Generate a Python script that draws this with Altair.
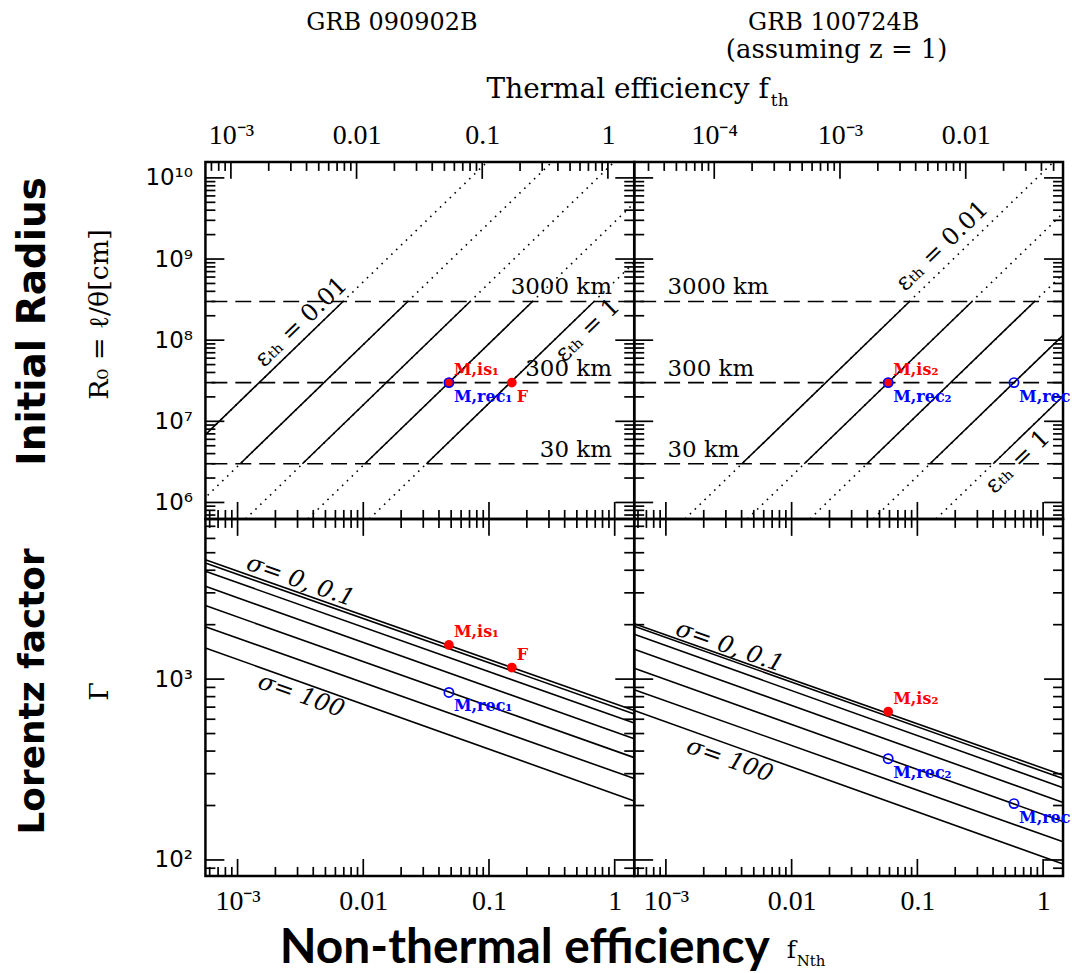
import altair as alt
import pandas as pd

# ------------------------------------------------------------------ layout
W, H = 430, 358
SERIF = "DejaVu Serif"
TICKFONT = "Liberation Serif"
SANS = "DejaVu Sans"
BOLD = "DejaVu Sans"
BOLD2 = "Lato"
RED, BLUE = "#ff0000", "#0000ff"

# ------------------------------------------------------------------ axis ranges (log)
nth_dom_left = [5.55e-4, 1.43]
nth_dom_right = [5.6e-4, 1.44]
fth_dom_left = [6.27e-4, 1.62]
fth_dom_right = [2.31e-5, 0.0594]
r_dom = [6.27e5, 1.574e10]
g_dom = [81.6, 7690.0]

# ------------------------------------------------------------------ tick labels
nth_ticks = [1e-3, 1e-2, 1e-1, 1.0]
nth_labels = ["10⁻³", "0.01", "0.1", "1"]
fth_ticks_left = [1e-3, 1e-2, 1e-1, 1.0]
fth_labels_left = ["10⁻³", "0.01", "0.1", "1"]
fth_ticks_right = [1e-4, 1e-3, 1e-2]
fth_labels_right = ["10⁻⁴", "10⁻³", "0.01"]
r_ticks = [1e6, 1e7, 1e8, 1e9, 1e10]
r_labels = ["10⁶", "10⁷", "10⁸", "10⁹", "10¹⁰"]
g_ticks = [1e2, 1e3]
g_labels = ["10²", "10³"]

# ------------------------------------------------------------------ radius levels (cm)
radius_cm = [3e6, 3e7, 3e8]
radius_names = ["30  km", "300  km", "3000  km"]

# ------------------------------------------------------------------ eps_th lines
eps_ids = ["0.01", "0.03", "0.1", "0.3", "1"]
# GRB 090902B: f_Nth where each line meets 30 km / 3000 km, and the panel bottom / top
eps_at30_left = [3.2e-4, 1.05e-3, 3.28e-3, 0.0103, 0.0318]
eps_at3000_left = [6.9e-3, 0.0226, 0.0708, 0.222, 0.685]
eps_bottom_left = [1.13e-4, 3.7e-4, 1.16e-3, 3.63e-3, 0.0112]
eps_top_left = [0.0966, 0.317, 0.991, 3.11, 9.6]
# GRB 100724B
eps_at30_right = [4.02e-3, 0.0126, 0.0396, 0.126, 0.401]
eps_at3000_right = [0.0867, 0.272, 0.855, 2.73, 8.65]
eps_bottom_right = [1.42e-3, 4.45e-3, 0.014, 0.0446, 0.141]
eps_top_right = [1.21, 3.8, 12.0, 38.0, 120.0]

# ------------------------------------------------------------------ Lorentz factor lines (sigma family)
sigma_ids = ["s1", "s2", "s3", "s4", "s5", "s6", "s7"]
gamma_lo_left = [4571, 4385, 3945, 3259, 2551, 1950, 1487]
gamma_hi_left = [670, 642, 572, 468, 368, 282, 212]
gamma_lo_right = [2023, 1963, 1770, 1463, 1150, 874, 670]
gamma_hi_right = [294, 282, 251, 208, 163, 126, 95]

# ------------------------------------------------------------------ measured points
r_pts_left_x = [0.048, 0.048, 0.152]
r_pts_left_y = [3e7, 3e7, 3e7]
r_pts_left_name = ["M,is₁", "M,rec₁", "F"]
r_pts_left_kind = ["is", "rec", "is"]

g_pts_left_x = [0.048, 0.152, 0.048]
g_pts_left_y = [1545, 1159, 844]
g_pts_left_name = ["M,is₁", "F", "M,rec₁"]
g_pts_left_kind = ["is", "is", "rec"]

r_pts_right_x = [0.0586, 0.0586, 0.587]
r_pts_right_y = [3e7, 3e7, 3e7]
r_pts_right_name = ["M,is₂", "M,rec₂", "M,rec"]
r_pts_right_kind = ["is", "rec", "rec"]

g_pts_right_x = [0.0586, 0.0586, 0.587]
g_pts_right_y = [661, 363, 205]
g_pts_right_name = ["M,is₂", "M,rec₂", "M,rec"]
g_pts_right_kind = ["is", "rec", "rec"]

# labels written under their marker (the rest go above)
below_radius = {"M,rec₁", "M,rec₂", "M,rec", "F"}
below_gamma = {"M,rec₁", "M,rec₂", "M,rec"}


# ================================================================== helpers
def log_ticks(lo, hi):
    major, minor = [], []
    for e in range(-6, 12):
        for m in range(1, 10):
            v = m * 10.0 ** e
            if lo <= v <= hi:
                (major if m == 1 else minor).append(v)
    return major, minor


def label_axis(orient, values, labels, pad, font=TICKFONT, size=28):
    expr = ("[" + ",".join("'%s'" % s for s in labels) + "][indexof(["
            + ",".join(repr(float(v)) for v in values) + "], datum.value)]")
    return alt.Axis(orient=orient, values=values, labelExpr=expr, ticks=False,
                    domain=False, grid=False, labelPadding=pad, labelFont=font,
                    labelFontSize=size, labelColor="black", labelFlush=False,
                    labelOverlap=False, labelBound=False)


def xtick_rules(xenc, lo, hi, side):
    major, minor = log_ticks(lo, hi)
    out = []
    for vals, ln in ((major, 17), (minor, 9)):
        y0, y1 = (H, H - ln) if side == "bottom" else (0, ln)
        out.append(alt.Chart(pd.DataFrame({"x": vals})).mark_rule(
            color="black", strokeWidth=1.7).encode(
            x=xenc, y=alt.value(y0), y2=alt.value(y1)))
    return out


def ytick_rules(yenc, lo, hi):
    major, minor = log_ticks(lo, hi)
    out = []
    for vals, ln in ((major, 19), (minor, 10)):
        df = pd.DataFrame({"y": vals})
        out.append(alt.Chart(df).mark_rule(color="black", strokeWidth=1.7).encode(
            y=yenc, x=alt.value(0), x2=alt.value(ln)))
        out.append(alt.Chart(df).mark_rule(color="black", strokeWidth=1.7).encode(
            y=yenc, x=alt.value(W), x2=alt.value(W - ln)))
    return out


def segments(xa, ya, xb, yb, ids):
    rows = []
    for i, k in enumerate(ids):
        rows.append({"k": k, "x": xa[i], "y": ya[i]})
        rows.append({"k": k, "x": xb[i], "y": yb[i]})
    return pd.DataFrame(rows)


def text_at(text, px, py, size, font=SERIF, weight="normal", angle=0,
            align="center", baseline="middle", style="normal"):
    return alt.Chart(pd.DataFrame({"t": [text]})).mark_text(
        font=font, fontSize=size, fontWeight=weight, angle=angle, align=align,
        baseline=baseline, fontStyle=style, color="black").encode(
        x=alt.value(px), y=alt.value(py), text="t:N")


def point_layers(xenc, yenc, xs, ys, names, kinds, below):
    df = pd.DataFrame({"x": xs, "y": ys, "name": names, "kind": kinds})
    df["side"] = ["below" if n in below else "above" for n in names]
    red = df[df.kind == "is"]
    blue = df[df.kind == "rec"]
    out = [
        alt.Chart(red).mark_circle(color=RED, size=95, opacity=1).encode(x=xenc, y=yenc),
        alt.Chart(blue).mark_point(shape="circle", filled=False, color=BLUE,
                                   size=85, strokeWidth=1.7, opacity=1).encode(x=xenc, y=yenc),
    ]
    for sub, col in ((red, RED), (blue, BLUE)):
        for side, dy in (("above", -8), ("below", 19)):
            part = sub[sub.side == side]
            if len(part):
                out.append(alt.Chart(part).mark_text(
                    font=SERIF, fontSize=16, fontWeight="bold", color=col,
                    align="left", baseline="alphabetic", dx=5, dy=dy).encode(
                    x=xenc, y=yenc, text="name:N"))
    return out


# ================================================================== radius panels
def radius_panel(nth_dom, fth_dom, fth_ticks, fth_labels, at30, at3000, bottom,
                 top, pts, km_x, km_align, eps_labels, show_y, extra):
    xs = alt.Scale(type="log", domain=nth_dom, nice=False)
    ys = alt.Scale(type="log", domain=r_dom, nice=False)
    yaxis = label_axis("left", r_ticks, r_labels, 13, font=SANS, size=23) if show_y else None
    X = alt.X("x:Q", scale=xs, axis=None, title=None)
    Y = alt.Y("y:Q", scale=ys, axis=yaxis, title=None)

    layers = []
    layers += xtick_rules(X, nth_dom[0], nth_dom[1], "bottom")
    layers += ytick_rules(Y, r_dom[0], r_dom[1])

    levels = pd.DataFrame({"y": radius_cm, "t": radius_names, "x": [km_x] * 3})
    layers.append(alt.Chart(levels).mark_rule(
        color="black", strokeWidth=1.6, strokeDash=[16, 8]).encode(y=Y))
    layers.append(alt.Chart(levels).mark_text(
        font=SERIF, fontSize=23, align=km_align, baseline="alphabetic", dy=-7,
        color="black").encode(x=X, y=Y, text="t:N"))

    dotted = segments(bottom, [r_dom[0]] * 5, top, [r_dom[1]] * 5, eps_ids)
    solid = segments(at30, [3e6] * 5, at3000, [3e8] * 5, eps_ids)
    layers.append(alt.Chart(dotted).mark_line(
        color="black", strokeWidth=1.6, strokeDash=[1.6, 5.2], clip=True).encode(
        x=X, y=Y, detail="k:N"))
    layers.append(alt.Chart(solid).mark_line(
        color="black", strokeWidth=1.6, clip=True).encode(x=X, y=Y, detail="k:N"))

    eps_df = pd.DataFrame(eps_labels, columns=["x", "y", "t"])
    layers.append(alt.Chart(eps_df).mark_text(
        font=SERIF, fontSize=24, angle=316, align="center", baseline="middle",
        color="black").encode(x=X, y=Y, text="t:N"))

    layers += point_layers(X, Y, *pts, below_radius)
    layers += extra
    main = alt.layer(*layers)

    fts = alt.Scale(type="log", domain=fth_dom, nice=False)
    XT = alt.X("x:Q", scale=fts, title=None,
               axis=label_axis("top", fth_ticks, fth_labels, 12))
    top_axis = alt.layer(*xtick_rules(XT, fth_dom[0], fth_dom[1], "top"))
    return alt.layer(main, top_axis).resolve_scale(x="independent").properties(
        width=W, height=H)


# ================================================================== Lorentz factor panels
def gamma_panel(nth_dom, g_lo, g_hi, pts, sig_labels, show_y, extra):
    xs = alt.Scale(type="log", domain=nth_dom, nice=False)
    ys = alt.Scale(type="log", domain=g_dom, nice=False)
    X = alt.X("x:Q", scale=xs, title=None,
              axis=label_axis("bottom", nth_ticks, nth_labels, 12))
    yaxis = label_axis("left", g_ticks, g_labels, 13, font=SANS, size=23) if show_y else None
    Y = alt.Y("y:Q", scale=ys, axis=yaxis, title=None)

    layers = []
    layers += xtick_rules(X, nth_dom[0], nth_dom[1], "bottom")
    layers += xtick_rules(X, nth_dom[0], nth_dom[1], "top")
    layers += ytick_rules(Y, g_dom[0], g_dom[1])

    lines = segments([nth_dom[0]] * 7, g_lo, [nth_dom[1]] * 7, g_hi, sigma_ids)
    layers.append(alt.Chart(lines).mark_line(
        color="black", strokeWidth=1.6, clip=True).encode(x=X, y=Y, detail="k:N"))

    sig_df = pd.DataFrame(sig_labels, columns=["x", "y", "t"])
    layers.append(alt.Chart(sig_df).mark_text(
        font=SERIF, fontSize=24, fontStyle="italic", angle=19.5, align="center",
        baseline="middle", color="black").encode(x=X, y=Y, text="t:N"))

    layers += point_layers(X, Y, *pts, below_gamma)
    layers += extra
    return alt.layer(*layers).properties(width=W, height=H)


# ================================================================== panels
tl = radius_panel(
    nth_dom_left, fth_dom_left, fth_ticks_left, fth_labels_left,
    eps_at30_left, eps_at3000_left, eps_bottom_left, eps_top_left,
    (r_pts_left_x, r_pts_left_y, r_pts_left_name, r_pts_left_kind),
    0.95, "right",
    [(3.22e-3, 1.66e8, "εₜₕ = 0.01"), (0.611, 1.32e8, "εₜₕ = 1")],
    True,
    [
        text_at("GRB 090902B", 187, -139, 24),
        text_at("Thermal efficiency f", 565, -64, 28, align="right", baseline="alphabetic"),
        text_at("th", 567, -56, 17, align="left", baseline="alphabetic"),
        text_at("Initial Radius", -173, 160, 39, font=BOLD, weight="bold", angle=270),
        text_at("R₀ = ℓ/θ[cm]", -106, 153, 27, angle=270),
    ],
)

tr = radius_panel(
    nth_dom_right, fth_dom_right, fth_ticks_right, fth_labels_right,
    eps_at30_right, eps_at3000_right, eps_bottom_right, eps_top_right,
    (r_pts_right_x, r_pts_right_y, r_pts_right_name, r_pts_right_kind),
    1.03e-3, "left",
    [(0.158, 1.44e9, "εₜₕ = 0.01"), (0.631, 3.16e6, "εₜₕ = 1")],
    False,
    [
        text_at("GRB 100724B", 200, -139, 24),
        text_at("(assuming z = 1)", 203, -112, 26),
    ],
)

bl = gamma_panel(
    nth_dom_left, gamma_lo_left, gamma_hi_left,
    (g_pts_left_x, g_pts_left_y, g_pts_left_name, g_pts_left_kind),
    [(3.16e-3, 3475, "σ=  0, 0.1"), (3.2e-3, 809, "σ=  100")],
    True,
    [
        text_at("Lorentz factor", -173, 173, 36, font=BOLD, weight="bold", angle=270),
        text_at("Γ", -106, 173, 27, angle=270),
        text_at("Non-thermal efficiency", 566, 445, 48, font=BOLD2, weight="bold",
                align="right", baseline="alphabetic"),
        text_at("f", 583, 440, 25, align="left", baseline="alphabetic"),
        text_at("Nth", 593, 448, 15, align="left", baseline="alphabetic"),
    ],
)

br = gamma_panel(
    nth_dom_right, gamma_lo_right, gamma_hi_right,
    (g_pts_right_x, g_pts_right_y, g_pts_right_name, g_pts_right_kind),
    [(3.21e-3, 1506, "σ=  0, 0.1"), (3.21e-3, 355, "σ=  100")],
    False,
    [],
)

chart = alt.concat(tl, tr, bl, br, columns=2, spacing=0, bounds="flush").properties(
    padding={"left": 12, "top": 8, "right": 0, "bottom": 0},
    background="white",
).configure_view(stroke="black", strokeWidth=2.5)

chart.save("out.html", embed_options={"renderer": "svg", "actions": False})
